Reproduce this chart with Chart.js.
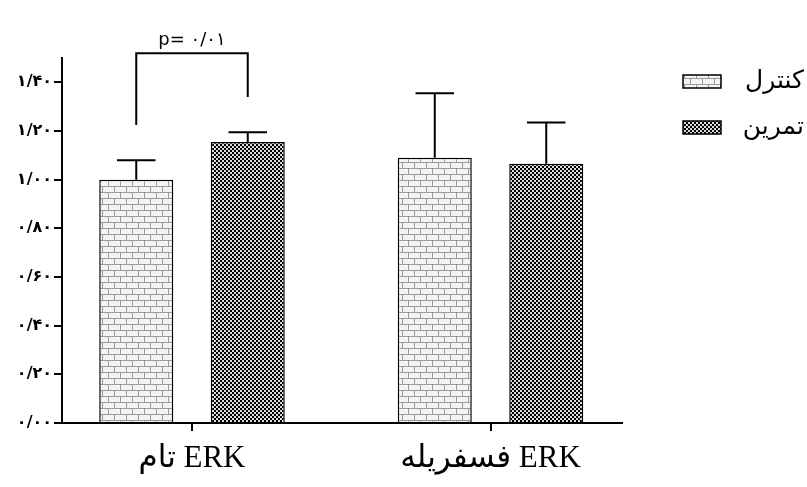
<!DOCTYPE html>
<html>
<head>
<meta charset="utf-8">
<script src="https://cdn.jsdelivr.net/npm/chart.js@4.4.1/dist/chart.umd.min.js"></script>
<style>
  html, body { margin: 0; padding: 0; background: #fff; }
  #wrap { width: 807px; height: 487px; }
</style>
</head>
<body>
<div id="wrap"><canvas id="chart"></canvas></div>
<script>
// Data
const categories = ['تام ERK', 'فسفریله ERK'];
const groupPos = [1, 2];
const seriesNames = ['کنترل', 'تمرین'];
const controlMean = [1.00, 1.09];
const controlSem = [0.08, 0.265];
const exerciseMean = [1.155, 1.065];
const exerciseSem = [0.04, 0.17];
const yTicks = [0, 0.2, 0.4, 0.6, 0.8, 1.0, 1.2, 1.4];
const yTickLabels = ['۰/۰۰', '۰/۲۰', '۰/۴۰', '۰/۶۰', '۰/۸۰', '۱/۰۰', '۱/۲۰', '۱/۴۰'];
const sigLabel = 'p= ۰/۰۱';
const sigTop = 1.52;
const sigGap = 0.145;

// Fill patterns
function makePattern(w, h, draw) {
  const c = document.createElement('canvas');
  c.width = w; c.height = h;
  const g = c.getContext('2d');
  draw(g);
  return g.createPattern(c, 'repeat');
}
const brick = makePattern(12, 12, g => {
  g.fillStyle = '#f3f3f3'; g.fillRect(0, 0, 12, 12);
  g.fillStyle = '#9a9a9a';
  g.fillRect(0, 0, 12, 1);
  g.fillRect(0, 6, 12, 1);
  g.fillRect(0, 0, 1, 6);
  g.fillRect(6, 6, 1, 6);
});
const checker = makePattern(4, 4, g => {
  g.fillStyle = '#dcdcdc'; g.fillRect(0, 0, 4, 4);
  g.fillStyle = '#000'; g.fillRect(0, 0, 2, 2); g.fillRect(2, 2, 2, 2);
});

// SEM whiskers + significance bracket
const errorBars = {
  id: 'errorBars',
  afterDatasetsDraw(chart) {
    const { ctx } = chart;
    const y = chart.scales.y;
    ctx.save();
    ctx.strokeStyle = '#000';
    ctx.lineWidth = 2;
    chart.data.datasets.forEach((ds, di) => {
      chart.getDatasetMeta(di).data.forEach((bar, i) => {
        const top = y.getPixelForValue(ds.data[i].y + ds.sem[i]);
        const cap = bar.width * 0.26;
        ctx.beginPath();
        ctx.moveTo(bar.x, bar.y); ctx.lineTo(bar.x, top);
        ctx.moveTo(bar.x - cap, top); ctx.lineTo(bar.x + cap, top);
        ctx.stroke();
      });
    });

    const ds = chart.data.datasets;
    const a = chart.getDatasetMeta(0).data[0];
    const b = chart.getDatasetMeta(1).data[0];
    const yA = y.getPixelForValue(ds[0].data[0].y + ds[0].sem[0] + sigGap);
    const yB = y.getPixelForValue(ds[1].data[0].y + ds[1].sem[0] + sigGap);
    const yT = y.getPixelForValue(sigTop);
    ctx.beginPath();
    ctx.moveTo(a.x, yA); ctx.lineTo(a.x, yT); ctx.lineTo(b.x, yT); ctx.lineTo(b.x, yB);
    ctx.stroke();
    ctx.fillStyle = '#000';
    ctx.font = '18px "DejaVu Sans"';
    ctx.textAlign = 'center';
    ctx.textBaseline = 'bottom';
    ctx.fillText(sigLabel, (a.x + b.x) / 2, yT - 4);
    ctx.restore();
  }
};

// lift the legend and pull its swatches away from the names
const legendNudge = {
  id: 'legendNudge',
  afterLayout(chart) {
    chart.legend.top -= 10;
    chart.legend.bottom -= 10;
    chart.legend.left -= 8;
  }
};

new Chart(document.getElementById('chart'), {
  type: 'bar',
  data: {
    datasets: [
      {
        label: seriesNames[0],
        data: groupPos.map((x, i) => ({ x, y: controlMean[i] })),
        sem: controlSem,
        backgroundColor: brick,
        borderColor: '#000',
        borderWidth: 1.5
      },
      {
        label: seriesNames[1],
        data: groupPos.map((x, i) => ({ x, y: exerciseMean[i] })),
        sem: exerciseSem,
        backgroundColor: checker,
        borderColor: '#000',
        borderWidth: 1.5
      }
    ]
  },
  options: {
    responsive: true,
    maintainAspectRatio: false,
    animation: false,
    categoryPercentage: 0.747,
    barPercentage: 0.664,
    layout: { padding: { top: 58, right: 3, bottom: 0, left: 0 } },
    plugins: {
      tooltip: { enabled: false },
      legend: {
        position: 'right',
        align: 'start',
        labels: {
          boxWidth: 38,
          boxHeight: 13,
          padding: 21,
          color: '#000',
          textAlign: 'right',
          font: { family: 'DejaVu Sans', size: 25 }
        }
      }
    },
    scales: {
      x: {
        type: 'linear',
        offset: false,
        min: 0.5645,
        max: 2.4405,
        afterBuildTicks: s => { s.ticks = groupPos.map(v => ({ value: v })); },
        ticks: {
          autoSkip: false,
          maxRotation: 0,
          padding: 11,
          color: '#000',
          font: { family: "'Liberation Serif', 'DejaVu Sans'", size: 31, lineHeight: 1.1 },
          callback: (v, i) => categories[i]
        },
        grid: { offset: false, drawOnChartArea: false, tickLength: 8, color: '#000', lineWidth: 2 },
        border: { color: '#000', width: 2 }
      },
      y: {
        min: 0,
        max: 1.5,
        afterBuildTicks: s => { s.ticks = yTicks.map(v => ({ value: v })); },
        afterFit: s => { s.width = 62; },
        ticks: {
          padding: 2,
          color: '#000',
          font: { family: 'DejaVu Sans', size: 16, weight: 'bold' },
          callback: (v, i) => yTickLabels[i]
        },
        grid: { drawOnChartArea: false, tickLength: 8, color: '#000', lineWidth: 2 },
        border: { color: '#000', width: 2 }
      },
      gap: {
        type: 'linear',
        position: 'right',
        grid: { display: false },
        border: { display: false },
        ticks: { display: false },
        afterFit: s => { s.width = 48; }
      }
    }
  },
  plugins: [errorBars, legendNudge]
});
</script>
</body>
</html>
